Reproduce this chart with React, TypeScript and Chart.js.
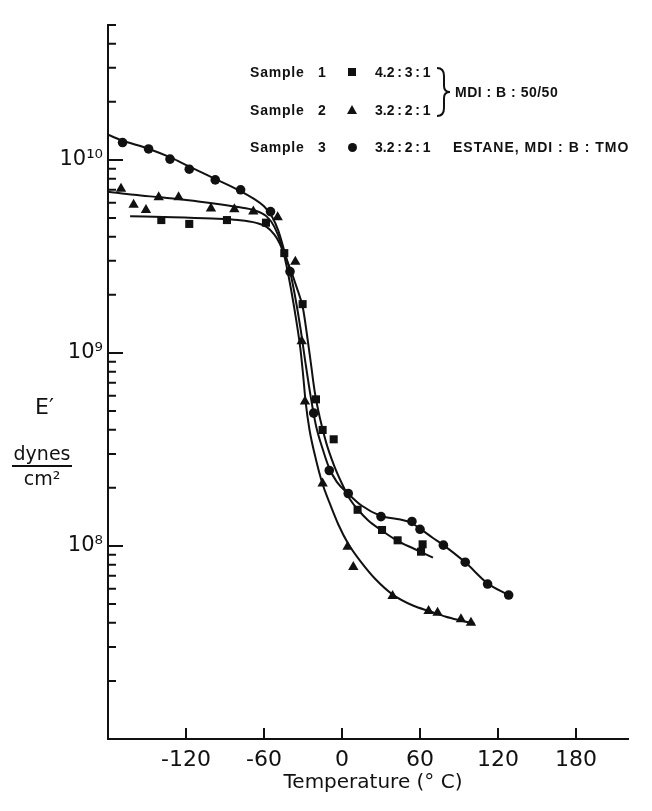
import React, { useEffect, useRef } from 'react';
import { Chart, registerables } from 'chart.js';

Chart.register(...registerables);

// ---- Data (temperature in °C, E' in dynes/cm²) ----
// Sample 1 (squares) 4.2:3:1
const sample1Temp = [-139, -117.5, -88.5, -58.5, -44.4, -30.3, -20, -14.9, -6.4, 12, 30.8, 42.8, 62, 60.8];
const sample1Modulus = [4.88e9, 4.66e9, 4.88e9, 4.73e9, 3.29e9, 1.79e9, 5.75e8, 3.99e8, 3.57e8, 1.54e8, 1.21e8, 1.07e8, 1.02e8, 9.34e7];
// Sample 2 (triangles) 3.2:2:1
const sample2Temp = [-170, -160.3, -150.8, -141, -125.7, -100.8, -82.8, -68.2, -49.5, -35.9, -31, -28.5, -14.9, 4.3, 8.7, 38.9, 66.6, 73.5, 91.5, 99.2];
const sample2Modulus = [7.1e9, 5.85e9, 5.5e9, 6.4e9, 6.4e9, 5.6e9, 5.55e9, 5.4e9, 5.05e9, 2.97e9, 1.15e9, 5.6e8, 2.11e8, 9.9e7, 7.77e7, 5.5e7, 4.6e7, 4.51e7, 4.17e7, 4.0e7];
// Sample 3 (circles) 3.2:2:1 Estane
const sample3Temp = [-168.8, -148.8, -132.3, -117.5, -97.5, -78, -55, -40, -21.8, -9.8, 4.8, 30, 53.8, 60, 78, 94.8, 112, 128.2];
const sample3Modulus = [1.23e10, 1.14e10, 1.01e10, 8.95e9, 7.88e9, 7.0e9, 5.4e9, 2.64e9, 4.88e8, 2.46e8, 1.87e8, 1.42e8, 1.34e8, 1.22e8, 1.01e8, 8.24e7, 6.35e7, 5.57e7];

// Fitted curves
const curve1Temp = [-163, -130, -100, -80, -66, -58, -52, -48, -45, -40, -35, -30, -27, -24, -21, -17, -12, -6, 0, 6, 12, 20, 30, 42, 55, 70];
const curve1Modulus = [5.1e9, 5.05e9, 4.97e9, 4.88e9, 4.72e9, 4.5e9, 4.1e9, 3.7e9, 3.3e9, 2.75e9, 2.2e9, 1.7e9, 1.25e9, 8.9e8, 6.3e8, 4.6e8, 3.4e8, 2.6e8, 2.1e8, 1.75e8, 1.55e8, 1.36e8, 1.21e8, 1.07e8, 9.7e7, 8.7e7];
const curve2Temp = [-180, -160, -140, -120, -100, -80, -68, -58, -52, -47, -43, -39, -35, -32, -30, -28, -25, -20, -15, -10, -3, 5, 15, 26, 39, 55, 67, 80, 92, 102];
const curve2Modulus = [6.85e9, 6.6e9, 6.4e9, 6.2e9, 5.97e9, 5.7e9, 5.5e9, 5.1e9, 4.5e9, 3.7e9, 2.9e9, 2.1e9, 1.45e9, 1.05e9, 7.8e8, 5.6e8, 4.0e8, 2.8e8, 2.1e8, 1.7e8, 1.3e8, 1.02e8, 8.2e7, 6.7e7, 5.6e7, 4.9e7, 4.6e7, 4.3e7, 4.1e7, 3.95e7];
const curve3Temp = [-180, -169, -150, -132, -117, -98, -80, -68, -60, -54, -49, -45, -40, -36, -32, -28, -24, -20, -15, -10, -4, 5, 15, 30, 45, 53, 60, 70, 78, 95, 112, 128];
const curve3Modulus = [1.35e10, 1.26e10, 1.15e10, 1.03e10, 9.2e9, 8.0e9, 7.0e9, 6.3e9, 5.75e9, 5.1e9, 4.3e9, 3.5e9, 2.65e9, 1.95e9, 1.35e9, 8.8e8, 5.9e8, 4.2e8, 3.2e8, 2.55e8, 2.15e8, 1.86e8, 1.62e8, 1.43e8, 1.37e8, 1.32e8, 1.23e8, 1.1e8, 1.01e8, 8.2e7, 6.4e7, 5.57e7];

// Axes
const xMin = -180;
const xMax = 220;
const xTickValues = [-120, -60, 0, 60, 120, 180];
const xTickLabels = ['-120', '-60', '0', '60', '120', '180'];
const xTitle = '\u2002Temperature (° C)';
const yMin = 1e7;
const yMax = 5e10;
const yMajorValues = [1e8, 1e9, 1e10];
const yMajorLabels = ['10⁸', '10⁹', '10¹⁰'];
const yMantissas = [1, 2, 3, 4, 5, 6, 7, 8, 9];
const yDecades = [1e7, 1e8, 1e9, 1e10];

const yTickValues: number[] = [];
yDecades.forEach((d) => yMantissas.forEach((m) => { const v = m * d; if (v >= yMin && v <= yMax) yTickValues.push(v); }));

const ink = '#111';
const FONT = '"DejaVu Sans", "Noto Sans", sans-serif';
const LEGEND_FONT = '"Liberation Sans", Arial, sans-serif';

const toPoints = (xs: number[], ys: number[]) => xs.map((x, i) => ({ x, y: ys[i] }));

const inwardTicks = {
  id: 'inwardTicks',
  afterDraw(chart: any) {
    const { ctx, chartArea, scales } = chart;
    const xs = scales.x;
    const ys = scales.y;
    ctx.save();
    ctx.strokeStyle = ink;
    ctx.lineWidth = 2;
    ctx.beginPath();
    xTickValues.forEach((v) => {
      const px = xs.getPixelForValue(v);
      ctx.moveTo(px, chartArea.bottom);
      ctx.lineTo(px, chartArea.bottom - 11);
    });
    yTickValues.forEach((v) => {
      const py = ys.getPixelForValue(v);
      const len = yMajorValues.includes(v) ? 15 : 8;
      ctx.moveTo(chartArea.left, py);
      ctx.lineTo(chartArea.left + len, py);
    });
    ctx.stroke();
    ctx.restore();
  },
};

export default function App() {
  const ref = useRef<HTMLCanvasElement>(null);

  useEffect(() => {
    if (!ref.current) return;
    const curveStyle = {
      showLine: true,
      pointRadius: 0,
      borderColor: ink,
      borderWidth: 2,
      cubicInterpolationMode: 'monotone' as const,
      fill: false,
    };
    const chart = new Chart(ref.current, {
      type: 'scatter',
      data: {
        datasets: [
          { label: 'Sample 1 curve', data: toPoints(curve1Temp, curve1Modulus), ...curveStyle },
          { label: 'Sample 2 curve', data: toPoints(curve2Temp, curve2Modulus), ...curveStyle },
          { label: 'Sample 3 curve', data: toPoints(curve3Temp, curve3Modulus), ...curveStyle },
          { label: 'Sample 1', data: toPoints(sample1Temp, sample1Modulus), pointStyle: 'rect', pointRadius: 5.7, backgroundColor: ink, borderWidth: 0, showLine: false },
          { label: 'Sample 2', data: toPoints(sample2Temp, sample2Modulus), pointStyle: 'triangle', pointRadius: 6, backgroundColor: ink, borderWidth: 0, showLine: false },
          { label: 'Sample 3', data: toPoints(sample3Temp, sample3Modulus), pointStyle: 'circle', pointRadius: 4.8, backgroundColor: ink, borderWidth: 0, showLine: false },
        ],
      },
      options: {
        responsive: false,
        animation: false,
        devicePixelRatio: 1,
        layout: { padding: { left: 0, top: 25, right: 24, bottom: 0 } },
        plugins: { legend: { display: false }, tooltip: { enabled: false } },
        scales: {
          x: {
            type: 'linear',
            min: xMin,
            max: xMax,
            afterBuildTicks: (s: any) => { s.ticks = xTickValues.map((v) => ({ value: v })); },
            afterFit: (s: any) => { s.height = 72; },
            grid: { display: false, drawTicks: false },
            border: { display: true, color: ink, width: 2 },
            ticks: {
              autoSkip: false,
              maxRotation: 0,
              padding: 8,
              color: ink,
              font: { family: FONT, size: 22 },
              callback: (v: any) => { const i = xTickValues.indexOf(Number(v)); return i >= 0 ? xTickLabels[i] : ''; },
            },
            title: { display: true, text: xTitle, color: ink, font: { family: FONT, size: 20 }, padding: { top: 4, bottom: 16 } },
          },
          y: {
            type: 'logarithmic',
            min: yMin,
            max: yMax,
            afterBuildTicks: (s: any) => { s.ticks = yTickValues.map((v) => ({ value: v })); },
            afterFit: (s: any) => { s.width = 108; },
            grid: { display: false, drawTicks: false },
            border: { display: true, color: ink, width: 2 },
            ticks: {
              autoSkip: false,
              padding: 5,
              color: ink,
              font: { family: FONT, size: 21 },
              callback: (v: any) => { const i = yMajorValues.indexOf(Number(v)); return i >= 0 ? yMajorLabels[i] : ''; },
            },
          },
        },
      },
      plugins: [inwardTicks],
    } as any);
    return () => chart.destroy();
  }, []);

  const legendText: React.CSSProperties = { position: 'absolute', fontFamily: LEGEND_FONT, fontWeight: 'bold', fontSize: 14, lineHeight: '16px', color: ink, whiteSpace: 'pre' };
  const rows = [
    { y: 72, label: 'Sample', num: '1', ratio: '4.2\u2009:\u20093\u2009:\u20091', extra: '', marker: 'square' },
    { y: 110, label: 'Sample', num: '2', ratio: '3.2\u2009:\u20092\u2009:\u20091', extra: '', marker: 'triangle' },
    { y: 147, label: 'Sample', num: '3', ratio: '3.2\u2009:\u20092\u2009:\u20091', extra: 'ESTANE, MDI : B : TMO', marker: 'circle' },
  ];

  const marker = (kind: string, cy: number) => {
    if (kind === 'square') return <div style={{ position: 'absolute', left: 348, top: cy - 4, width: 8, height: 8, background: ink }} />;
    if (kind === 'circle') return <div style={{ position: 'absolute', left: 347.5, top: cy - 4.5, width: 9, height: 9, borderRadius: '50%', background: ink }} />;
    return <div style={{ position: 'absolute', left: 347, top: cy - 5, width: 0, height: 0, borderLeft: '5px solid transparent', borderRight: '5px solid transparent', borderBottom: `9px solid ${ink}` }} />;
  };

  return (
    <div style={{ position: 'absolute', left: 0, top: 0, width: 652, height: 811, background: '#fff', overflow: 'hidden' }}>
      <canvas ref={ref} width={652} height={811} style={{ position: 'absolute', left: 0, top: 0, width: 652, height: 811 }} />
      {rows.map((r) => (
        <React.Fragment key={r.num}>
          <span style={{ ...legendText, left: 250, top: r.y - 8, letterSpacing: 0.8 }}>{r.label}</span>
          <span style={{ ...legendText, left: 318, top: r.y - 8 }}>{r.num}</span>
          {marker(r.marker, r.y)}
          <span style={{ ...legendText, left: 375, top: r.y - 8 }}>{r.ratio}</span>
          {r.extra ? <span style={{ ...legendText, left: 453, top: r.y - 8, letterSpacing: 1 }}>{r.extra}</span> : null}
        </React.Fragment>
      ))}
      <svg width={652} height={811} style={{ position: 'absolute', left: 0, top: 0, pointerEvents: 'none' }}>
        <path d="M437 68 Q444 68 444 76 L444 86 Q444 92 450 92 Q444 92 444 98 L444 108 Q444 116 437 116" fill="none" stroke={ink} strokeWidth={2} />
      </svg>
      <span style={{ ...legendText, left: 455, top: 84, letterSpacing: 0.5 }}>MDI : B : 50/50</span>
      <span style={{ position: 'absolute', left: 35, top: 393, fontFamily: FONT, fontSize: 22, lineHeight: '28px', color: ink }}>E′</span>
      <div style={{ position: 'absolute', left: 12, top: 442, width: 60, textAlign: 'center', fontFamily: FONT, fontSize: 19, lineHeight: '22px', color: ink }}>
        <div style={{ borderBottom: `2px solid ${ink}`, paddingBottom: 1 }}>dynes</div>
        <div>cm²</div>
      </div>
    </div>
  );
}
